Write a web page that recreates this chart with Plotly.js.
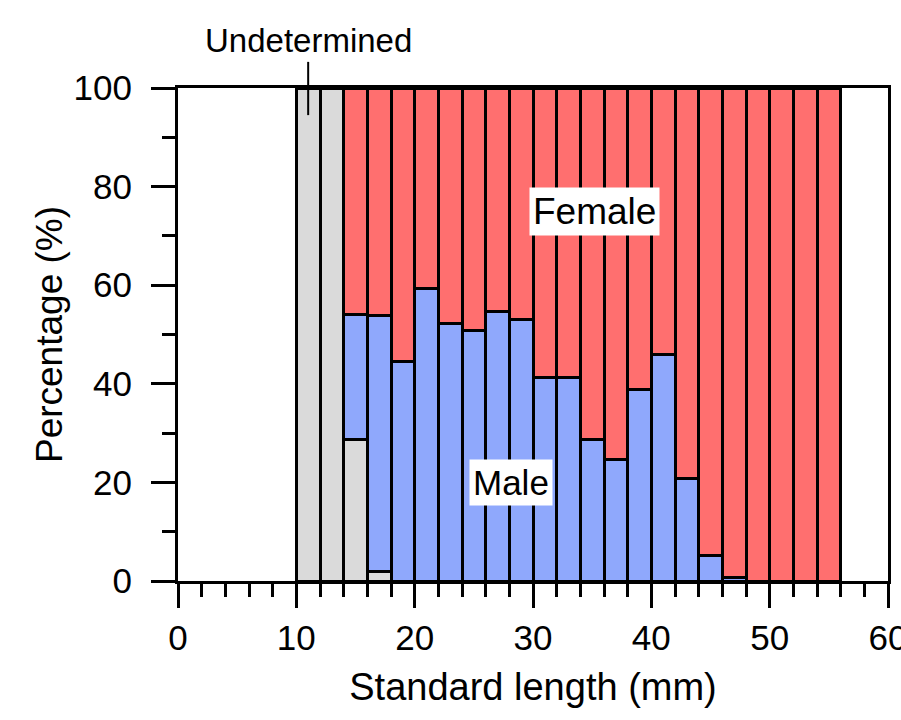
<!DOCTYPE html>
<html>
<head>
<meta charset="utf-8">
<script src="https://cdn.plot.ly/plotly-3.0.1.min.js"></script>
<style>html,body{margin:0;padding:0;background:#fff;}#chart{width:901px;height:720px;}</style>
</head>
<body>
<div id="chart"></div>
<script>
// Bin centres (standard length, mm), bins 2 mm wide
const lengthBins = [11,13,15,17,19,21,23,25,27,29,31,33,35,37,39,41,43,45,47,49,51,53,55];
// Percentages per bin
const undetermined = [100,100,28.7,2.0,0,0,0,0,0,0,0,0,0,0,0,0,0,0,0,0,0,0,0];
const male = [0,0,25.3,51.8,44.5,59.4,52.3,50.8,54.6,53.1,41.3,41.3,28.7,24.7,38.9,46.0,20.8,5.1,0.8,0,0,0,0];
const female = [0,0,46.0,46.2,55.5,40.6,47.7,49.2,45.4,46.9,58.7,58.7,71.3,75.3,61.1,54.0,79.2,94.9,99.2,100,100,100,100];
const xTicks = [0,10,20,30,40,50,60];
const yTicks = [0,20,40,60,80,100];

const font = "Liberation Sans, Arial, Helvetica, sans-serif";
const outline = {color: '#000', width: 3};

const traces = [
  {type: 'bar', name: 'Undetermined', x: lengthBins, y: undetermined, width: 2,
   marker: {color: '#dadada', line: outline}, hoverinfo: 'skip'},
  {type: 'bar', name: 'Male', x: lengthBins, y: male, width: 2,
   marker: {color: '#8fa8fc', line: outline}, hoverinfo: 'skip'},
  {type: 'bar', name: 'Female', x: lengthBins, y: female, width: 2,
   marker: {color: '#ff6f6f', line: outline}, hoverinfo: 'skip'}
];

const layout = {
  width: 901, height: 720,
  margin: {l: 178, r: 13, t: 88, b: 139},
  paper_bgcolor: '#fff', plot_bgcolor: '#fff',
  barmode: 'stack', bargap: 0,
  showlegend: false,
  font: {family: font, color: '#000', size: 34},
  xaxis: {
    range: [0, 60], tickvals: xTicks, ticktext: xTicks.map(String),
    ticks: 'outside', ticklen: 24, tickwidth: 3, tickcolor: '#000',
    showline: true, linewidth: 3, linecolor: '#000', mirror: true,
    showgrid: false, zeroline: false, ticklabeloverflow: 'allow',
    tickfont: {size: 35, family: font},
    minor: {dtick: 2, tick0: 0, ticks: 'outside', ticklen: 13, tickwidth: 3, tickcolor: '#000', showgrid: false},
    title: {text: 'Standard length (mm)', font: {size: 38, family: font}, standoff: 18}
  },
  yaxis: {
    range: [0, 100], tickvals: yTicks, ticktext: yTicks.map(String),
    ticks: 'outside', ticklen: 24, tickwidth: 3, tickcolor: '#000',
    showline: true, linewidth: 3, linecolor: '#000', mirror: true,
    showgrid: false, zeroline: false, ticklabelstandoff: 12,
    tickfont: {size: 35, family: font},
    minor: {dtick: 10, tick0: 0, ticks: 'outside', ticklen: 13, tickwidth: 3, tickcolor: '#000', showgrid: false},
    title: {text: 'Percentage (%)', font: {size: 37, family: font}, standoff: 0}
  },
  shapes: [
    {type: 'line', xref: 'x', yref: 'paper', x0: 11, x1: 11, y0: 0.945, y1: 1.053,
     line: {color: '#000', width: 2}}
  ],
  annotations: [
    {text: 'Female', x: 35.2, y: 75, xref: 'x', yref: 'y', showarrow: false,
     font: {size: 37, family: font, color: '#000'}, bgcolor: '#fff', borderpad: 3},
    {text: 'Male', x: 28.1, y: 19.9, xref: 'x', yref: 'y', showarrow: false,
     font: {size: 35, family: font, color: '#000'}, bgcolor: '#fff', borderpad: 3},
    {text: 'Undetermined', x: 11, y: 1.097, xref: 'x', yref: 'paper', showarrow: false,
     yanchor: 'middle', font: {size: 33, family: font, color: '#000'}}
  ]
};

Plotly.newPlot('chart', traces, layout, {staticPlot: true, displayModeBar: false});
</script>
</body>
</html>
